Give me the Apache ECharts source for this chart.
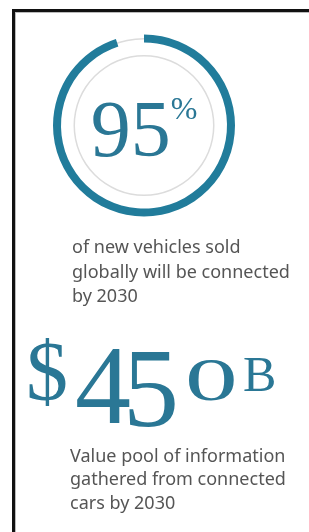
<!DOCTYPE html>
<html>
<head>
<meta charset="utf-8">
<script src="https://cdn.jsdelivr.net/npm/echarts@6/dist/echarts.min.js"></script>
<style>
  html, body { margin: 0; padding: 0; background: #fff; }
  #main { width: 309px; height: 532px; }
</style>
</head>
<body>
<div id="main"></div>
<script>
// 数据
const ringValue = [95]
const ringMax = 100
const ringUnit = '%'
const captionTop = ['of new vehicles sold', 'globally will be connected', 'by 2030']
const statParts = ['$', '4', '5', '0', 'B']
const captionBottom = ['Value pool of information', 'gathered from connected', 'cars by 2030']

const teal = '#217c9b'
const tealText = '#2a7795'
const grey = '#dcdcdc'
const serif = '"Liberation Serif", "DejaVu Serif", serif'
const sans = '"Noto Sans", "Open Sans", sans-serif'

const chart = echarts.init(document.getElementById('main'))

// 公共的 gauge 配置，隐藏刻度
function bareGauge(radius) {
  return {
    type: 'gauge',
    center: [144, 125.5],
    radius: radius,
    startAngle: 90,
    endAngle: -270,
    min: 0,
    max: ringMax,
    pointer: { show: false },
    axisTick: { show: false },
    splitLine: { show: false },
    axisLabel: { show: false },
    title: { show: false },
    detail: { show: false },
    silent: true
  }
}

const track = Object.assign(bareGauge(87.5), {
  axisLine: { lineStyle: { width: 1.5, color: [[1, grey]] } },
  data: [{ value: 0 }]
})
const inner = Object.assign(bareGauge(70.5), {
  axisLine: { lineStyle: { width: 1.5, color: [[1, grey]] } },
  data: [{ value: 0 }]
})
const ring = Object.assign(bareGauge(91), {
  axisLine: { show: false, lineStyle: { width: 8, color: [[1, 'rgba(0,0,0,0)']] } },
  progress: { show: true, width: 8, itemStyle: { color: teal } },
  detail: {
    show: true,
    offsetCenter: [0, 9],
    formatter: '{v|{value}}{u|' + ringUnit + '}',
    rich: {
      v: { fontFamily: serif, fontWeight: 'normal', fontSize: 80, lineHeight: 80, color: tealText },
      u: { fontFamily: serif, fontWeight: 'normal', fontSize: 32, lineHeight: 58, color: tealText, verticalAlign: 'top', padding: [0, 0, 0, 0] }
    }
  },
  data: [{ value: ringValue[0] }]
})

// $450B 各个字单独摆放
const statLayout = [
  { x: 26, y: 378, size: 84, sx: 1 },
  { x: 75, y: 394, size: 112, sx: 1 },
  { x: 123, y: 397, size: 112, sx: 1 },
  { x: 185, y: 384, size: 62, sx: 1.7 },
  { x: 243, y: 378, size: 50, sx: 1 }
]

const graphics = [
  { type: 'line', shape: { x1: 12, y1: 10.5, x2: 309, y2: 10.5 }, style: { stroke: '#111', lineWidth: 3 } },
  { type: 'line', shape: { x1: 13.5, y1: 9, x2: 13.5, y2: 532 }, style: { stroke: '#111', lineWidth: 3 } },
  { type: 'line', shape: { x1: 15, y1: 12.5, x2: 309, y2: 12.5 }, style: { stroke: '#bbb', lineWidth: 1 } },
  { type: 'line', shape: { x1: 15.5, y1: 12, x2: 15.5, y2: 532 }, style: { stroke: '#bbb', lineWidth: 1 } },
  {
    type: 'text', x: 72, y: 236,
    style: { text: captionTop.join('\n'), font: '18px ' + sans, fill: '#555', lineHeight: 24.5 }
  },
  {
    type: 'text', x: 70, y: 445,
    style: { text: captionBottom.join('\n'), font: '18px ' + sans, fill: '#555', lineHeight: 23.5 }
  }
]

statParts.forEach((t, i) => {
  const p = statLayout[i]
  graphics.push({
    type: 'text', x: p.x, y: p.y, scaleX: p.sx,
    style: { text: t, font: p.size + 'px ' + serif, fill: tealText, verticalAlign: 'middle' }
  })
})

chart.setOption({
  animation: false,
  series: [track, inner, ring],
  graphic: graphics
})
</script>
</body>
</html>
